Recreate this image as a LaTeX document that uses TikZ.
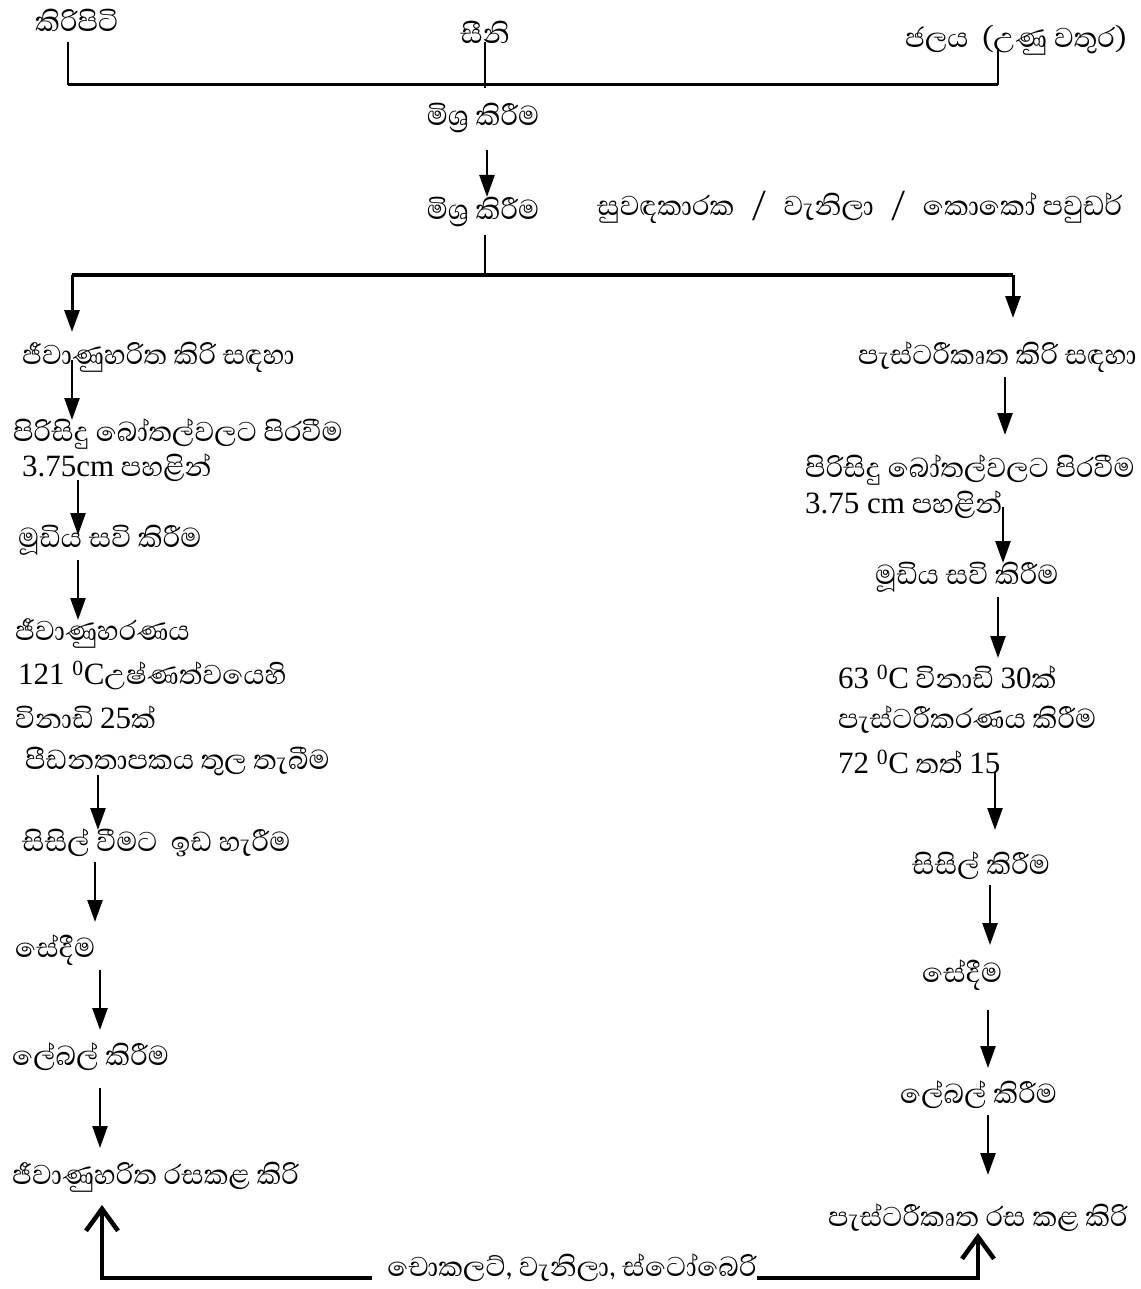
\documentclass[tikz,border=0pt]{standalone}
\usepackage{fontspec}
\setmainfont{Liberation Serif}
\newfontfamily\sinhalafont[Script=Sinhala]{Abhaya Libre}
\newfontfamily\latfont{Liberation Serif}
\usetikzlibrary{arrows.meta}
\newcommand\lt[1]{{\latfont\fontsize{31}{33}\selectfont #1}}
\begin{document}
\begin{tikzpicture}[x=1pt,y=-1pt,
  lbl/.style={anchor=west,inner sep=0pt,font=\sinhalafont\fontsize{35}{38}\selectfont},
  arr/.style={line width=2.5pt,-{Triangle[length=22pt,width=15pt]}},
  thinline/.style={line width=1.4pt},
  barline/.style={line width=3pt},
  thickbar/.style={line width=4.5pt},
  bigarr/.style={line width=4.5pt,-{Straight Barb[length=22pt,width=32pt]}}]
\useasboundingbox (0,0) rectangle (1140,1289);
\fill[white] (0,0) rectangle (1140,1289);

% top ingredients
\node[lbl] (kp) at (35,20) {කිරිපිටි};
\node[lbl,anchor=center] (sn) at (485,32) {සීනි};
\node[lbl] (jl) at (905,40) {ජලය \ (උණු වතුර)};
\coordinate (kpb) at (68,42);
\coordinate (kph) at (68,85);
\coordinate (snb) at (485,42);
\coordinate (snh) at (485,88);
\coordinate (jlb) at (998,48);
\coordinate (jlh) at (998,85);
\draw[thinline] (kpb) -- (kph);
\draw[thinline] (snb) -- (snh);
\draw[thinline] (jlb) -- (jlh);
\draw[barline] (kph) -- (jlh);

\node[lbl,anchor=center] (mix1) at (483,118) {මිශ්^^^^200dර කිරීම};
\node[lbl,anchor=center] (mix2) at (483,212) {මිශ්^^^^200dර කිරීම};
\node[lbl] (flav) at (597,207) {සුවඳකාරක\enspace/\enspace වැනිලා\enspace/\enspace කොකෝ පවුඩර්};
\coordinate (a1s) at (487,150); \coordinate (a1e) at (487,197);
\draw[arr] (a1s) -- (a1e);

% branch
\coordinate (bs) at (485,235);
\coordinate (bm) at (485,275);
\coordinate (bl) at (72,275);
\coordinate (br) at (1013,275);
\coordinate (ble) at (72,332);
\coordinate (bre) at (1013,318);
\draw[thinline] (bs) -- (bm);
\draw[thickbar] (bl) -- (br);
\draw[arr,line width=3pt] (bl) -- (ble);
\draw[arr,line width=3pt] (br) -- (bre);

% left column
\node[lbl] (L0) at (22,357) {ජීවාණුහරිත කිරි සඳහා};
\node[lbl] (L1) at (13,434) {පිරිසිදු බෝතල්වලට පිරවීම};
\node[lbl] (L1b) at (22,468) {\lt{3.75cm} පහළින්};
\node[lbl] (L2) at (18,540) {මූඩිය සවි කිරීම};
\node[lbl] (L3) at (15,633) {ජීවාණුහරණය};
\node[lbl] (L3b) at (18,675) {\lt{121 \textsuperscript{0}C}උෂ්ණත්වයෙහි};
\node[lbl] (L3c) at (15,717) {විනාඩි \lt{25}ක්};
\node[lbl] (L3d) at (25,762) {පීඩනතාපකය තුල තැබීම};
\node[lbl] (L4) at (22,843) {සිසිල් වීමට \ ඉඩ හැරීම};
\node[lbl] (L5) at (15,950) {සේදීම};
\node[lbl] (L6) at (12,1057) {ලේබල් කිරීම};
\node[lbl] (L7) at (12,1177) {ජීවාණුහරිත රසකළ කිරි};

\coordinate (l1s) at (72,360);  \coordinate (l1e) at (72,420);
\coordinate (l2s) at (78,480);  \coordinate (l2e) at (78,535);
\coordinate (l3s) at (78,560);  \coordinate (l3e) at (78,620);
\coordinate (l4s) at (98,775);  \coordinate (l4e) at (98,830);
\coordinate (l5s) at (95,862);  \coordinate (l5e) at (95,922);
\coordinate (l6s) at (100,970); \coordinate (l6e) at (100,1030);
\coordinate (l7s) at (100,1088);\coordinate (l7e) at (100,1148);
\foreach \i in {1,...,7} {\draw[arr] (l\i s) -- (l\i e);}

% right column
\node[lbl] (R0) at (858,357) {පැස්ටරීකෘත කිරි සඳහා};
\node[lbl] (R1) at (805,470) {පිරිසිදු බෝතල්වලට පිරවීම};
\node[lbl] (R1b) at (805,505) {\lt{3.75 cm} පහළින්};
\node[lbl] (R2) at (875,577) {මූඩිය සවි කිරීම};
\node[lbl] (R3) at (838,677) {\lt{63 \textsuperscript{0}C} විනාඩි \lt{30}ක්};
\node[lbl] (R3b) at (838,720) {පැස්ටරීකරණය කිරීම};
\node[lbl] (R3c) at (838,762) {\lt{72 \textsuperscript{0}C} තත් \lt{15}};
\node[lbl] (R4) at (912,866) {සිසිල් කිරීම};
\node[lbl] (R5) at (922,975) {සේදීම};
\node[lbl] (R6) at (900,1095) {ලේබල් කිරීම};
\node[lbl] (R7) at (828,1218) {පැස්ටරීකෘත රස කළ කිරි};

\coordinate (r1s) at (1005,377); \coordinate (r1e) at (1005,435);
\coordinate (r2s) at (1003,507); \coordinate (r2e) at (1003,563);
\coordinate (r3s) at (998,597);  \coordinate (r3e) at (998,658);
\coordinate (r4s) at (995,772);  \coordinate (r4e) at (995,830);
\coordinate (r5s) at (990,885);  \coordinate (r5e) at (990,945);
\coordinate (r6s) at (988,1010); \coordinate (r6e) at (988,1068);
\coordinate (r7s) at (988,1115); \coordinate (r7e) at (988,1175);
\foreach \i in {1,...,7} {\draw[arr] (r\i s) -- (r\i e);}

% bottom flavours
\node[lbl,anchor=center] (fl) at (572,1268) {චොකලට්, වැනිලා, ස්ටෝබෙරි};
\coordinate (fll) at (372,1278);
\coordinate (flc) at (102,1278);
\coordinate (flt) at (102,1205);
\coordinate (frl) at (757,1278);
\coordinate (frc) at (978,1278);
\coordinate (frt) at (978,1233);
\draw[bigarr] (fll) -- (flc) -- (flt);
\draw[bigarr] (frl) -- (frc) -- (frt);
\end{tikzpicture}
\end{document}
